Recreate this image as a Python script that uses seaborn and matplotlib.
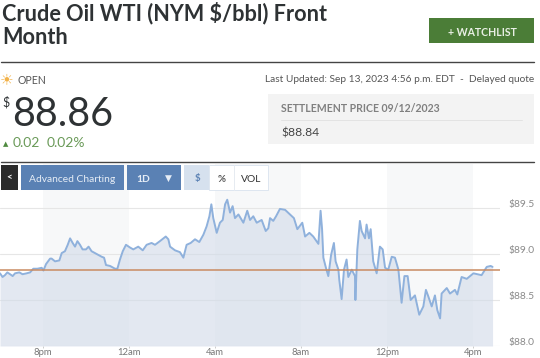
import matplotlib
matplotlib.use("Agg")
import matplotlib.pyplot as plt
from matplotlib.patches import Rectangle
from matplotlib.transforms import ScaledTranslation
import seaborn as sns
import pandas as pd

hours = [0.00,.12,.23,.34,.47,.59,.70,.90,1.05,1.24,1.40,1.55,1.74,1.94,2.02,2.14,2.33,2.40,2.56,2.76,2.87,3.02,3.15,3.26,3.38,3.49,3.60,3.72,3.84,4.00,4.12,4.26,4.50,4.73,4.84,4.93,5.12,5.35,5.46,5.58,5.71,5.86,6.05,6.20,6.43,6.64,6.82,7.05,7.21,7.44,7.71,7.83,7.91,8.14,8.37,8.53,8.68,8.87,9.07,9.27,9.46,9.61,9.74,9.83,9.92,10.08,10.23,10.36,10.47,10.57,10.70,10.82,10.93,11.09,11.32,11.50,11.63,11.78,11.94,12.17,12.36,12.48,12.56,12.71,12.84,13.02,13.26,13.49,13.67,13.83,14.06,14.19,14.39,14.57,14.81,14.91,14.98,15.04,15.16,15.27,15.40,15.53,15.61,15.74,15.78,15.89,16.00,16.12,16.20,16.36,16.51,16.53,16.62,16.74,16.82,16.98,17.05,17.16,17.24,17.36,17.52,17.67,17.80,17.91,18.06,18.22,18.37,18.53,18.68,18.81,18.96,19.10,19.30,19.50,19.69,19.81,19.92,20.08,20.23,20.34,20.47,20.54,20.78,20.93,21.16,21.27,21.47,21.71,22.02,22.40,22.64,22.82,22.91]
prices = [88.79,88.75,88.77,88.80,88.78,88.76,88.79,88.80,88.78,88.79,88.80,88.84,88.84,88.85,88.82,88.89,88.95,88.95,88.92,88.93,89.01,89.03,89.10,89.17,89.12,89.08,89.14,89.10,89.05,89.05,89.08,89.03,89.00,88.97,88.96,88.88,88.87,88.84,88.84,88.94,89.03,89.10,89.07,89.05,89.08,89.04,89.10,89.12,89.10,89.14,89.19,89.16,89.08,89.04,89.02,88.96,89.10,89.12,89.16,89.13,89.21,89.30,89.41,89.54,89.39,89.23,89.34,89.37,89.54,89.59,89.45,89.52,89.39,89.43,89.34,89.47,89.37,89.41,89.34,89.37,89.25,89.28,89.39,89.36,89.41,89.49,89.48,89.43,89.39,89.27,89.34,89.19,89.23,89.19,89.11,89.47,89.27,88.96,88.85,88.76,88.99,89.12,88.92,88.83,88.72,88.51,88.83,88.94,88.75,88.83,88.76,88.50,89.05,89.36,89.25,89.17,89.32,89.17,89.27,88.92,88.79,89.08,89.05,88.85,88.83,88.97,88.96,88.83,88.47,88.76,88.76,88.50,88.55,88.34,88.43,88.61,88.54,88.43,88.55,88.39,88.30,88.57,88.63,88.57,88.61,88.56,88.75,88.73,88.79,88.77,88.86,88.87,88.86]
settlement = 88.83
x_ticks = [2, 6, 10, 14, 18, 22]
x_labels = ["8pm", "12am", "4am", "8am", "12pm", "4pm"]
y_ticks = [88.0, 88.5, 89.0, 89.5]
y_labels = ["$88.0", "$88.5", "$89.0", "$89.5"]
shaded = [(2, 6), (10, 14), (18, 22)]

sns.set_theme(style="white")
plt.rcParams["font.family"] = ["Lato", "DejaVu Sans"]
W, H = 540, 358
fig = plt.figure(figsize=(W / 100, H / 100), dpi=100, facecolor="white")

ax = fig.add_axes([0, (H - 346) / H, 500 / W, (346 - 164) / H])
df = pd.DataFrame({"hour": hours, "price": prices})
for a, b in shaded:
    ax.axvspan(a, b, color="#f7f8f9", lw=0, zorder=0)
for v in y_ticks:
    ax.axhline(v, color="#e6e6e6", lw=0.8, zorder=1)
ax.fill_between(hours, prices, 88.0, color="#d2dbe9", alpha=0.62, lw=0, zorder=2)
sns.lineplot(data=df, x="hour", y="price", ax=ax, color="#8fb1dc", lw=1.4, zorder=3, errorbar=None)
ax.axhline(settlement, color="#c98b62", lw=1.1, zorder=4)
ax.set_xlim(0, 500 / 21.5)
ax.set_ylim(88.0, 88.0 + (346 - 164) / 92)
ax.set_xticks(x_ticks, x_labels)
ax.yaxis.tick_right()
ax.set_yticks(y_ticks, y_labels)
ax.tick_params(axis="x", length=1.5, width=0.7, color="#cccccc", labelsize=6.8, labelcolor="#777777", pad=0, bottom=True)
ax.tick_params(axis="y", length=0, labelsize=7.4, labelcolor="#8a8a8a", pad=5.8)
for lab in ax.get_yticklabels():
    lab.set_transform(lab.get_transform() + ScaledTranslation(0, 5 / 100, fig.dpi_scale_trans))
ax.set_xlabel("")
ax.set_ylabel("")
for s in ax.spines.values():
    s.set_visible(False)

ui = fig.add_axes([0, 0, 1, 1], zorder=5)
ui.set_xlim(0, W)
ui.set_ylim(H, 0)
ui.axis("off")
ui.patch.set_alpha(0)

def box(x0, y0, x1, y1, color, **kw):
    ui.add_patch(Rectangle((x0, y0), x1 - x0, y1 - y0, facecolor=color, lw=kw.get("lw", 0), edgecolor=kw.get("ec", "none")))

dark = "#2e3234"
ui.text(2, 13.5, "Crude Oil WTI (NYM $/bbl) Front", fontsize=15.6, fontweight="bold", color=dark, va="center")
ui.text(2, 37.5, "Month", fontsize=15.6, fontweight="bold", color=dark, va="center")
box(429, 18, 534, 43, "#4b7d37")
ui.text(482, 32, "+ WATCHLIST", fontsize=7.6, fontweight="bold", color="#e8efe4", ha="center", va="center")
ui.plot([1, 534], [62, 62], color="#444444", lw=1)
ui.plot([1, 534], [161.5, 161.5], color="#444444", lw=1)
ui.text(7, 79.5, "\u2600", fontsize=11, color="#f2b24a", ha="center", va="center", family="DejaVu Sans")
ui.text(17, 80.5, "OPEN", fontsize=7.6, color="#555555", va="center")
ui.text(2, 102, "$", fontsize=9, color=dark, va="center")
ui.text(12, 114, "88.86", fontsize=28.5, color=dark, va="center")
ui.text(6, 144, "\u25b2", fontsize=5, color="#4f8a3f", va="center", family="DejaVu Sans", ha="center")
ui.text(13, 143, "0.02", fontsize=10, color="#6a9a58", va="center")
ui.text(47, 143, "0.02%", fontsize=10, color="#6a9a58", va="center")
ui.text(534, 79.5, "Last Updated: Sep 13, 2023 4:56 p.m. EDT  -  Delayed quote", fontsize=7.3, color="#555555", ha="right", va="center")
box(268, 94, 534, 144, "#f3f3f3")
ui.plot([281, 522], [119.5, 119.5], color="#e3e3e3", lw=0.7)
ui.text(281, 109, "SETTLEMENT PRICE 09/12/2023", fontsize=7.6, fontweight="bold", color="#808080", va="center")
ui.text(281, 133, "$88.84", fontsize=8.7, color="#444444", va="center")
box(1, 165, 18, 190, "#2b2b2b")
ui.text(9.5, 178, "<", fontsize=7, color="white", ha="center", va="center", fontweight="bold")
box(21, 165, 124, 190, "#5a81b4")
ui.text(72.5, 179, "Advanced Charting", fontsize=7.4, color="#e6edf6", ha="center", va="center")
box(127, 165, 181, 190, "#5a81b4")
ui.text(143, 179, "1D", fontsize=7.4, fontweight="bold", color="#e6edf6", ha="center", va="center")
ui.text(168, 178, "\u25bc", fontsize=6.5, color="#e6edf6", ha="center", va="center", family="DejaVu Sans")
box(184, 165, 209, 190, "#d6e1ee")
ui.text(197, 179, "$", fontsize=7, fontweight="bold", color="#5a81b4", ha="center", va="center")
box(209, 165, 268, 190, "white", lw=0.6, ec="#d9e3ee")
ui.text(221.5, 179, "%", fontsize=7, fontweight="bold", color="#555555", ha="center", va="center")
ui.plot([234, 234], [165, 190], color="#e6ebf1", lw=0.7)
ui.text(251, 179, "VOL", fontsize=7.4, color="#333333", ha="center", va="center")

fig.savefig("out.png", dpi=100)
